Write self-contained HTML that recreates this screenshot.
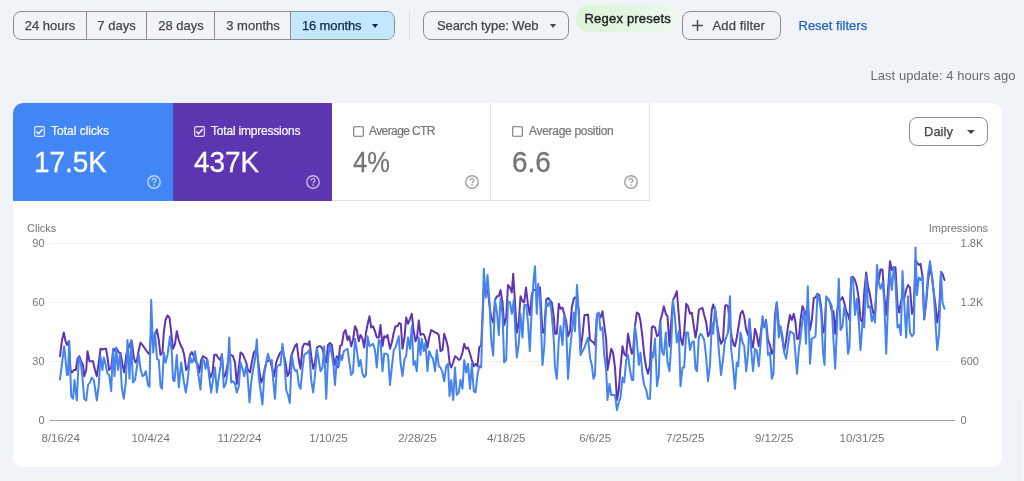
<!DOCTYPE html>
<html lang="en">
<head>
<meta charset="utf-8">
<title>Performance</title>
<style>
*{box-sizing:border-box;margin:0;padding:0}
html,body{width:1024px;height:481px;overflow:hidden;background:#f0f4f9;font-family:"Liberation Sans",Arial,sans-serif;color:#444746}
.abs{position:absolute}
#seg{left:13px;top:11px;width:382px;height:29px;border:1px solid #8a8d8c;border-radius:8px;display:flex;overflow:hidden;font-size:13px}
#seg div{flex:none;-webkit-text-stroke:.25px currentColor;height:100%;display:flex;align-items:center;justify-content:center;border-right:1px solid #8a8d8c;white-space:nowrap}
#seg div:last-child{border-right:0;background:#c2e7ff;color:#0b2a45}
.btn{-webkit-text-stroke:.25px currentColor;height:29px;top:11px;border:1px solid #8a8d8c;border-radius:8px;font-size:13px;display:flex;align-items:center;white-space:nowrap}
.caret{display:inline-block;width:0;height:0;border-left:4px solid transparent;border-right:4px solid transparent;border-top:4px solid #444746}
#card{left:13px;top:103px;width:989px;height:364px;background:#fff;border-radius:10px;overflow:hidden}
.tile{top:0;height:98px;position:absolute}
.tile .lbl{-webkit-text-stroke:.2px currentColor;position:absolute;left:38px;top:21px;font-size:12px;white-space:nowrap}
.tile .val{-webkit-text-stroke:.3px currentColor;position:absolute;left:21px;top:42px;font-size:30px;white-space:nowrap;transform:scaleX(.93);transform-origin:0 0}
.cb{position:absolute;left:21px;top:23px;width:11px;height:11px}
.help{position:absolute;left:132px;top:71px;width:16px;height:16px}
</style>
</head>
<body>
<div id="seg" class="abs">
  <div style="width:73px">24 hours</div>
  <div style="width:60px">7 days</div>
  <div style="width:68px;padding-left:1px">28 days</div>
  <div style="width:76px;padding-left:1px">3 months</div>
  <div style="width:103px;justify-content:flex-start;padding-left:11px;letter-spacing:-.15px">16 months<span class="caret" style="border-width:4px 3.8px 0;border-top-color:#0b2a45;margin-left:11px;margin-top:1px"></span></div>
</div>
<div class="abs" style="left:409px;top:11px;width:1px;height:29px;background:#dadee4"></div>
<div class="abs btn" style="left:423px;width:146px;padding-left:13px;letter-spacing:-.1px">Search type: Web<span class="caret" style="border-width:4px 3.8px 0;margin-left:11.5px;margin-top:1px"></span></div>
<div class="abs" style="left:576px;top:4.5px;width:102px;height:27.5px;border-radius:14px;background:linear-gradient(90deg,#dbf3d7,#ecf8ec);box-shadow:0 0 2px 0 #e4f5e2"></div>
<div class="abs" style="left:584.5px;top:11px;color:#1f1f1f;font-size:13px;letter-spacing:.2px;-webkit-text-stroke:.4px #1f1f1f;white-space:nowrap">Regex presets</div>
<div class="abs btn" style="left:682px;width:99px;padding-left:9.3px;letter-spacing:.1px"><svg width="11" height="11" viewBox="0 0 11 11" style="margin-right:9.3px"><path d="M5.5 0V11M0 5.5H11" stroke="#444746" stroke-width="1.4" fill="none"/></svg>Add filter</div>
<div class="abs" style="left:798.5px;top:18px;font-size:13px;color:#1f62c0;-webkit-text-stroke:.25px #1f62c0;white-space:nowrap">Reset filters</div>
<div class="abs" style="right:8.5px;top:68px;font-size:13px;letter-spacing:.05px;color:#696c71;white-space:nowrap">Last update: 4 hours ago</div>

<div class="abs" style="left:1022.5px;top:400px;width:1.5px;height:81px;background:#f6f8fc"></div>
<div id="card" class="abs">
  <div class="tile" style="left:0;width:160px;background:#4285f4;color:#fff">
    <svg class="cb" viewBox="0 0 12 12"><rect x=".75" y=".75" width="10.5" height="10.5" rx="1.5" fill="none" stroke="#fff" stroke-opacity=".85" stroke-width="1.3"/><path d="M2.7 6.1L5 8.4L9.4 3.6" fill="none" stroke="#fff" stroke-width="1.6"/></svg><div class="lbl">Total clicks</div><div class="val">17.5K</div><svg class="help" style="left:133px" viewBox="0 0 16 16" opacity=".68"><circle cx="8" cy="8" r="6.2" fill="none" stroke="#fff" stroke-width="1.4"/><path d="M6.1 6.6C6.1 5.4 6.9 4.7 8 4.7C9.1 4.7 9.9 5.4 9.9 6.4C9.9 7.6 8 7.8 8 9.3" fill="none" stroke="#fff" stroke-width="1.3"/><circle cx="8" cy="11.1" r=".85" fill="#fff"/></svg>
  </div>
  <div class="tile" style="left:160px;width:159px;background:#5e35b1;color:#fff">
    <svg class="cb" viewBox="0 0 12 12"><rect x=".75" y=".75" width="10.5" height="10.5" rx="1.5" fill="none" stroke="#fff" stroke-opacity=".85" stroke-width="1.3"/><path d="M2.7 6.1L5 8.4L9.4 3.6" fill="none" stroke="#fff" stroke-width="1.6"/></svg><div class="lbl" style="letter-spacing:-.2px">Total impressions</div><div class="val">437K</div><svg class="help" viewBox="0 0 16 16" opacity=".68"><circle cx="8" cy="8" r="6.2" fill="none" stroke="#fff" stroke-width="1.4"/><path d="M6.1 6.6C6.1 5.4 6.9 4.7 8 4.7C9.1 4.7 9.9 5.4 9.9 6.4C9.9 7.6 8 7.8 8 9.3" fill="none" stroke="#fff" stroke-width="1.3"/><circle cx="8" cy="11.1" r=".85" fill="#fff"/></svg>
  </div>
  <div class="tile" style="left:319px;width:159px;border-right:1px solid #e0e0e0;border-bottom:1px solid #e0e0e0;color:#757575">
    <svg class="cb" viewBox="0 0 12 12"><rect x=".75" y=".75" width="10.5" height="10.5" rx="1" fill="none" stroke="#757575" stroke-width="1.2"/></svg><div class="lbl" style="letter-spacing:-.6px;margin-left:-1px">Average CTR</div><div class="val" style="transform:scaleX(.85)">4%</div><svg class="help" viewBox="0 0 16 16" opacity="1"><circle cx="8" cy="8" r="6.2" fill="none" stroke="#9e9e9e" stroke-width="1.4"/><path d="M6.1 6.6C6.1 5.4 6.9 4.7 8 4.7C9.1 4.7 9.9 5.4 9.9 6.4C9.9 7.6 8 7.8 8 9.3" fill="none" stroke="#9e9e9e" stroke-width="1.3"/><circle cx="8" cy="11.1" r=".85" fill="#9e9e9e"/></svg>
  </div>
  <div class="tile" style="left:478px;width:159px;border-right:1px solid #e0e0e0;border-bottom:1px solid #e0e0e0;color:#757575">
    <svg class="cb" viewBox="0 0 12 12"><rect x=".75" y=".75" width="10.5" height="10.5" rx="1" fill="none" stroke="#757575" stroke-width="1.2"/></svg><div class="lbl" style="letter-spacing:-.3px">Average position</div><div class="val">6.6</div><svg class="help" viewBox="0 0 16 16" opacity="1"><circle cx="8" cy="8" r="6.2" fill="none" stroke="#9e9e9e" stroke-width="1.4"/><path d="M6.1 6.6C6.1 5.4 6.9 4.7 8 4.7C9.1 4.7 9.9 5.4 9.9 6.4C9.9 7.6 8 7.8 8 9.3" fill="none" stroke="#9e9e9e" stroke-width="1.3"/><circle cx="8" cy="11.1" r=".85" fill="#9e9e9e"/></svg>
  </div>
  <div class="abs btn" style="left:896px;top:14px;width:79px;height:29px;padding-left:14px;color:#444746">Daily<span class="caret" style="margin-left:14px;margin-top:1px"></span></div>
</div>
<svg class="abs" style="left:0;top:0" width="1024" height="481" viewBox="0 0 1024 481">
<style>.pl{fill:none;stroke-width:2;stroke-linejoin:round;stroke-linecap:round}.ax{font-family:"Liberation Sans",Arial,sans-serif;font-size:11px;fill:#757575}.xl{font-family:"Liberation Sans",Arial,sans-serif;font-size:11.5px;fill:#757575;text-anchor:middle}</style>
<g stroke="#f2f2f2" stroke-width="1"><path d="M50 243.5H953.5M50 302.5H953.5M50 361.5H953.5"/></g>
<path d="M50 420.5H955" stroke="#9e9e9e" stroke-width="1"/>
<text class="ax" x="27" y="232">Clicks</text>
<text class="ax" x="44.6" y="247" text-anchor="end">90</text>
<text class="ax" x="44.6" y="306" text-anchor="end">60</text>
<text class="ax" x="44.6" y="365" text-anchor="end">30</text>
<text class="ax" x="44.6" y="424" text-anchor="end">0</text>
<text class="ax" x="988" y="232" text-anchor="end">Impressions</text>
<text class="ax" x="960.6" y="247">1.8K</text>
<text class="ax" x="960.6" y="306">1.2K</text>
<text class="ax" x="960.6" y="365">600</text>
<text class="ax" x="960.6" y="424">0</text>
<text class="xl" x="60.7" y="442">8/16/24</text>
<text class="xl" x="150.6" y="442">10/4/24</text>
<text class="xl" x="239.5" y="442">11/22/24</text>
<text class="xl" x="328.5" y="442">1/10/25</text>
<text class="xl" x="417.4" y="442">2/28/25</text>
<text class="xl" x="506.3" y="442">4/18/25</text>
<text class="xl" x="595.2" y="442">6/6/25</text>
<text class="xl" x="685.2" y="442">7/25/25</text>
<text class="xl" x="774.1" y="442">9/12/25</text>
<text class="xl" x="862.0" y="442">10/31/25</text>
<!--LINES-->
<polyline class="pl" stroke="#5e35b1" points="60.0,356.2 62.0,340.0 63.8,332.5 65.5,341.2 67.0,345.0 68.8,341.2 70.5,370.0 72.0,372.5 73.8,370.0 75.8,370.0 77.5,358.8 79.2,356.2 81.2,361.2 83.0,365.0 84.2,376.2 86.2,370.0 87.5,351.2 89.5,361.2 91.2,361.2 93.0,361.2 95.0,370.0 96.8,376.2 98.8,362.5 100.5,348.8 102.5,349.5 104.2,348.8 106.0,348.8 107.5,357.5 109.2,370.0 111.2,367.5 113.0,352.5 115.0,348.8 116.8,348.8 118.8,352.5 120.5,353.0 122.5,365.0 124.2,372.5 126.2,355.0 128.0,348.8 130.0,343.8 131.8,341.2 133.8,357.5 135.5,362.5 137.0,360.0 138.8,350.0 140.5,342.5 142.5,345.0 144.2,347.5 146.2,350.5 148.0,353.0 149.5,354.5 151.2,332.5 153.0,337.5 155.0,335.0 156.8,329.5 158.8,340.0 160.5,355.0 162.5,352.5 163.8,332.5 165.5,320.0 167.5,315.5 169.5,317.5 171.2,332.5 173.0,348.8 175.0,343.8 176.8,331.2 178.8,340.0 180.5,345.0 182.5,348.8 184.2,355.0 186.2,370.0 188.0,367.5 190.0,355.0 191.8,352.0 193.8,356.2 195.5,361.2 197.5,363.8 199.2,372.5 201.2,360.0 203.0,356.2 205.0,357.5 206.8,358.8 208.8,370.0 210.5,377.5 212.5,372.5 214.2,355.0 216.2,354.5 218.0,357.5 220.0,360.0 221.8,355.0 223.8,377.5 225.5,375.0 227.5,365.0 229.2,355.0 231.2,355.0 233.0,356.2 235.0,362.5 236.8,383.8 238.8,367.5 240.5,352.5 242.5,353.8 244.2,357.5 246.2,362.5 248.0,370.0 250.0,372.5 251.8,362.5 253.8,352.5 255.5,350.5 257.5,355.0 259.2,370.0 261.2,382.5 263.0,377.5 265.0,367.5 266.8,361.2 268.8,360.5 270.5,361.2 272.5,370.0 274.2,376.2 276.2,362.5 278.0,357.5 280.0,353.0 281.8,351.2 283.8,355.0 285.5,362.5 287.5,376.2 289.2,372.5 291.2,356.2 293.0,351.2 295.0,346.2 296.8,343.8 298.8,360.0 300.5,368.8 302.5,347.5 304.2,343.8 306.2,343.8 308.0,345.0 309.5,341.2 311.2,356.2 313.2,368.8 315.0,362.5 317.0,347.5 318.8,346.2 320.5,346.2 322.5,348.8 324.2,356.2 326.2,362.5 328.0,345.0 330.0,343.0 331.8,345.0 333.5,357.5 335.0,365.0 336.8,356.2 338.0,367.5 340.0,346.2 341.8,345.0 343.8,332.5 345.5,330.0 347.5,340.0 349.2,336.2 351.2,346.2 353.0,340.0 355.0,326.2 356.8,330.0 358.8,341.2 360.5,335.0 362.5,338.8 364.2,347.5 366.0,332.5 368.0,322.5 369.5,316.2 371.2,327.5 373.0,326.2 375.0,331.2 376.8,337.5 378.8,337.5 380.5,325.0 382.5,346.2 384.2,336.2 386.2,337.5 387.5,335.0 390.0,348.8 391.8,342.5 393.8,332.5 395.5,326.2 397.5,326.2 399.2,323.0 400.8,323.8 402.5,348.8 404.5,337.5 406.2,317.5 408.0,323.8 410.0,318.8 411.8,313.8 413.5,330.0 415.5,341.2 417.0,337.5 418.8,320.5 420.5,335.0 422.5,333.8 424.2,335.0 426.2,341.2 427.5,347.5 429.2,337.5 431.2,330.0 433.0,331.2 435.0,332.5 436.8,333.0 438.8,335.0 440.5,351.2 442.5,350.0 444.2,333.8 446.2,340.0 448.0,347.5 449.5,362.5 451.2,367.5 453.2,362.5 455.0,356.2 456.8,357.5 458.8,360.0 460.5,358.8 462.5,352.5 464.2,343.8 466.2,348.8 468.0,347.5 470.0,353.8 471.8,360.0 473.8,366.2 475.5,363.8 477.5,366.2 479.2,347.5 481.2,345.0 483.8,290.0 485.8,290.0 487.5,287.5 489.5,305.0 491.2,317.5 493.2,322.5 495.0,300.0 497.0,296.2 498.8,296.2 500.5,290.0 502.5,302.5 504.2,325.0 506.2,317.5 508.0,285.0 510.0,287.5 511.8,292.5 513.2,273.8 515.0,302.5 516.8,332.5 518.8,322.5 520.5,296.2 522.5,301.2 524.2,302.5 526.0,287.5 528.0,305.0 529.8,315.0 531.8,295.0 533.2,290.0 535.0,290.0 536.8,290.0 538.2,290.0 540.0,287.5 542.5,332.5 544.2,332.5 546.2,300.0 548.0,298.0 550.0,300.0 551.8,302.5 553.8,317.5 555.0,333.8 556.8,333.8 558.8,303.8 560.5,308.8 562.5,307.5 564.2,313.8 566.2,321.2 568.0,336.2 570.0,331.2 571.8,307.5 573.8,298.8 575.0,297.5 577.0,297.5 578.8,311.2 580.5,350.0 582.5,335.0 584.5,315.0 586.2,315.0 588.0,314.5 590.0,340.0 591.8,341.2 593.5,342.5 595.0,345.0 597.0,315.0 598.8,313.8 600.5,317.5 602.5,311.2 604.2,325.0 606.2,340.0 607.5,370.0 609.5,358.8 611.2,348.8 613.0,352.5 615.0,367.5 617.0,400.0 618.8,390.0 620.5,367.5 622.5,346.2 624.2,353.8 626.2,356.2 628.0,333.8 630.0,345.0 631.8,353.8 633.2,350.0 635.0,326.2 636.8,312.5 638.8,313.8 640.5,321.2 642.5,337.5 644.2,355.0 646.2,367.5 648.0,373.8 650.0,365.0 651.8,327.5 653.0,326.2 655.0,327.5 657.0,336.2 658.8,335.0 660.5,320.0 662.0,315.0 663.8,306.2 665.8,313.8 667.5,316.2 669.5,346.2 671.2,322.5 673.0,300.0 675.0,296.2 676.8,291.2 678.8,315.0 680.5,337.5 682.5,345.0 684.2,332.5 686.2,303.8 688.0,306.2 690.0,313.8 691.8,312.5 693.8,326.2 695.5,337.5 697.0,328.8 698.8,310.0 700.5,308.8 702.5,308.0 704.2,315.0 706.2,322.5 708.0,336.2 710.0,332.5 711.8,310.0 713.2,304.5 715.0,310.0 716.8,322.5 718.8,335.0 721.0,343.8 723.0,340.0 725.0,306.2 726.2,305.0 728.0,306.2 730.0,325.0 731.8,337.5 733.8,345.0 735.0,346.2 736.8,337.5 738.8,325.0 740.5,313.8 742.5,310.8 744.2,316.2 746.2,330.0 748.0,335.0 749.5,320.0 751.2,340.0 753.0,347.5 755.0,328.8 756.8,335.0 758.8,346.2 760.5,335.0 762.5,320.0 764.2,326.2 766.0,320.0 768.0,340.0 770.0,345.0 771.8,353.8 773.5,350.0 775.0,315.0 776.8,302.5 778.8,326.2 780.5,327.5 782.5,340.0 784.2,351.2 786.2,340.0 788.0,326.2 790.0,315.0 791.8,320.0 793.8,313.8 795.5,322.5 797.0,338.8 798.8,338.8 800.5,320.0 802.5,306.2 804.2,310.0 806.0,315.0 807.8,305.0 810.0,330.0 811.8,320.0 813.8,298.0 815.5,297.5 817.5,293.8 819.2,295.0 821.2,307.5 823.0,332.5 824.5,330.0 826.2,297.5 828.0,298.8 830.0,302.5 831.8,311.2 833.5,311.2 835.2,333.8 837.0,312.5 838.8,300.0 840.5,300.0 842.5,297.0 844.2,302.5 846.2,311.2 848.0,315.0 849.5,320.0 851.2,277.5 853.0,277.0 855.0,280.0 856.8,286.2 858.8,298.8 860.5,320.0 862.5,322.5 864.2,292.5 866.2,272.5 868.0,286.2 870.0,295.0 871.8,306.2 873.5,313.8 875.0,315.0 877.0,281.2 878.8,280.0 880.5,269.5 882.5,269.5 884.2,295.0 886.2,315.0 888.0,290.0 890.0,261.2 891.8,270.0 893.8,267.0 895.5,267.5 897.5,305.0 899.2,312.5 900.8,302.5 902.5,296.2 904.2,298.8 906.2,290.0 908.0,285.0 910.0,287.5 912.0,313.8 913.8,307.5 915.5,260.0 917.0,262.5 918.8,265.0 920.5,263.8 922.5,276.2 924.2,319.5 926.2,302.5 928.0,281.2 930.0,267.5 931.8,275.0 933.8,292.5 935.5,305.0 937.2,322.5 939.2,310.0 941.0,272.0 942.5,273.8 944.5,280.0"/>
<polyline class="pl" stroke="#4584ef" points="60.0,379.5 64.2,346.2 67.0,375.0 68.0,375.0 69.2,341.2 71.2,396.2 73.0,398.8 74.5,380.0 76.8,400.5 78.8,357.5 80.5,361.2 82.5,377.5 84.2,398.8 86.2,400.5 88.0,385.0 90.0,382.5 91.8,377.5 93.8,380.0 96.8,400.5 98.8,385.0 100.5,356.2 102.5,370.0 103.8,357.5 105.5,363.8 107.5,373.8 109.2,375.0 111.2,391.2 113.0,348.8 114.5,376.2 116.2,347.5 118.0,370.0 120.0,353.8 121.8,387.5 123.8,398.8 125.8,382.5 127.5,340.0 129.5,378.8 131.2,340.0 133.0,382.5 135.0,380.0 136.8,367.5 138.8,355.0 140.5,368.8 142.5,376.2 144.2,375.0 145.8,371.2 148.0,385.0 149.5,387.0 151.2,300.0 153.2,352.5 155.0,332.5 157.0,358.8 158.8,360.0 160.5,386.2 162.0,388.8 163.8,352.5 165.5,362.5 167.5,355.0 170.0,336.2 171.8,352.5 173.0,380.0 174.5,381.2 176.8,355.0 178.8,387.5 181.2,362.5 183.8,381.2 185.8,392.5 188.0,377.5 190.0,356.2 191.8,362.5 193.0,361.2 195.0,351.2 196.8,363.8 198.8,377.5 200.5,389.5 202.5,358.8 204.2,361.2 205.5,368.8 207.5,360.0 209.2,377.5 211.2,392.5 213.0,380.0 215.0,367.5 216.8,392.5 218.8,377.5 220.5,366.2 222.0,353.8 223.8,387.5 225.8,383.8 227.5,372.5 229.2,337.5 231.2,382.5 233.0,381.2 235.0,383.8 236.8,392.5 238.8,386.2 240.5,362.5 242.5,368.8 244.2,376.2 246.2,366.2 247.5,375.0 249.5,402.5 251.2,382.5 253.0,370.0 255.0,360.0 256.8,339.5 258.8,377.5 260.5,390.0 262.5,404.5 264.2,375.0 266.2,362.5 268.0,353.8 270.0,361.2 271.8,360.0 273.2,380.0 275.0,398.8 276.8,367.5 278.8,365.0 280.5,365.0 282.5,343.8 284.2,357.5 286.2,390.0 288.0,395.0 289.8,403.0 291.8,355.0 293.8,367.5 295.5,371.2 297.0,370.0 298.8,385.0 300.5,388.8 302.5,368.8 304.2,355.0 305.5,353.8 307.5,352.5 309.2,350.0 311.2,380.0 313.2,392.5 315.0,375.0 317.0,348.8 318.8,360.0 320.5,371.2 322.5,367.5 324.2,346.2 326.2,398.8 328.0,358.8 330.0,345.0 331.8,353.8 333.5,366.2 335.0,385.0 336.8,358.8 338.8,366.2 340.5,355.0 342.0,360.0 343.8,351.2 345.5,350.0 347.5,348.8 349.2,361.2 351.2,375.0 353.0,372.5 355.0,338.8 356.8,350.0 358.8,366.2 360.5,360.0 362.5,373.8 364.2,377.0 366.0,375.0 367.5,336.2 369.5,346.2 371.2,345.0 373.0,343.8 375.0,350.0 376.8,367.5 378.8,340.0 380.5,341.2 382.5,371.2 384.2,353.8 386.2,353.8 388.0,355.0 390.0,385.0 391.8,367.5 393.8,350.0 395.5,347.5 398.8,336.2 400.5,362.5 402.5,376.2 404.5,358.8 406.2,356.2 408.0,337.5 410.0,348.8 411.8,326.2 413.5,365.0 415.0,361.2 416.8,371.2 418.8,337.5 420.5,355.0 421.8,338.8 423.8,351.2 425.5,342.5 427.5,371.2 429.2,351.2 431.2,356.2 433.0,358.8 435.0,371.2 436.8,350.0 438.8,366.2 440.5,367.5 442.5,372.5 444.2,381.2 446.2,366.2 448.0,363.8 449.5,396.2 451.2,380.0 453.2,400.0 455.0,367.5 456.8,395.0 458.8,392.5 460.5,380.0 462.5,388.8 464.2,360.0 466.2,372.5 468.0,363.8 470.0,388.8 471.8,363.8 473.8,391.2 475.5,392.5 477.5,375.0 479.2,366.2 481.2,367.5 483.8,268.8 485.8,297.5 487.5,275.0 489.5,302.5 491.2,340.0 493.2,355.5 495.0,300.0 497.0,312.5 498.8,335.0 500.5,298.8 502.5,315.0 504.2,362.5 506.2,360.0 508.0,301.2 510.0,302.5 511.8,313.8 513.8,300.0 515.5,335.0 516.8,357.5 518.8,343.8 520.5,313.8 522.5,337.5 524.2,305.0 526.2,305.0 528.0,322.5 529.8,351.2 531.8,307.5 533.2,285.0 535.0,266.2 536.8,313.8 538.2,283.8 540.0,298.8 542.5,365.0 544.2,347.5 546.2,302.5 548.0,306.2 550.0,300.0 551.8,315.0 553.8,340.0 555.0,367.5 556.8,378.8 558.8,340.0 560.5,326.2 562.5,345.0 564.2,315.0 566.2,327.5 568.0,378.8 570.0,350.0 571.8,332.5 573.8,312.5 575.0,331.2 577.0,285.0 578.8,315.0 580.5,355.0 582.5,351.2 584.5,347.5 586.2,342.5 588.0,337.5 590.0,357.5 591.8,365.0 593.5,378.8 595.0,375.0 597.0,313.8 598.8,312.5 600.5,330.0 602.5,327.5 604.2,355.0 606.2,370.0 607.5,400.0 609.5,383.8 611.2,395.0 613.0,395.0 615.0,395.0 617.0,410.0 618.8,402.5 620.5,397.5 622.5,377.5 624.2,382.5 626.2,360.0 628.0,355.0 630.0,370.0 631.8,380.0 633.2,380.0 635.0,326.2 636.8,340.0 638.8,365.0 640.5,352.5 642.5,375.0 644.2,385.0 646.2,390.0 648.0,398.8 650.0,398.8 651.8,352.5 653.0,357.5 655.0,338.8 657.0,386.2 658.8,375.0 660.5,322.5 662.0,351.2 663.8,355.0 665.8,332.5 667.5,362.5 669.5,371.2 671.2,345.0 673.0,300.0 675.0,317.5 676.8,342.5 678.8,331.2 680.5,386.2 682.5,367.5 684.2,367.5 686.2,332.5 688.0,332.5 690.0,350.0 691.8,342.5 693.8,341.2 695.5,368.8 697.0,371.2 698.8,337.5 700.5,333.8 702.5,336.2 704.2,340.0 706.2,357.5 708.0,381.2 710.0,365.0 711.8,322.5 713.2,333.8 715.0,307.5 716.8,322.5 718.8,350.0 721.0,375.0 723.0,360.0 725.0,340.0 726.2,337.5 728.0,332.5 730.0,296.2 731.2,350.0 733.0,365.0 735.0,388.8 736.8,362.5 738.2,366.2 740.5,332.5 742.5,342.5 744.2,346.2 746.2,371.2 748.0,353.8 749.5,318.8 751.2,350.0 753.0,371.2 755.0,348.8 756.8,351.2 758.8,366.2 760.5,345.0 762.5,316.2 764.2,327.5 766.0,321.2 768.0,355.0 770.0,352.5 771.8,378.8 773.5,373.8 775.0,325.0 776.8,302.5 778.8,337.5 780.5,326.2 782.5,336.2 784.2,352.5 786.2,358.8 788.0,345.0 790.0,331.2 791.8,332.5 793.8,333.8 795.5,355.0 797.0,373.8 798.8,350.0 800.5,337.5 802.5,320.0 804.2,310.0 806.0,343.8 807.8,286.2 810.0,363.8 811.8,338.8 813.8,337.5 815.5,336.2 817.5,293.8 819.2,298.8 821.2,312.5 823.0,352.5 824.5,365.0 826.2,296.2 828.0,298.8 830.0,302.5 831.8,306.2 833.5,340.0 835.2,368.8 837.0,327.5 838.8,278.8 840.5,330.0 842.5,326.2 844.2,307.5 846.2,317.5 848.0,353.8 849.5,347.5 851.2,277.5 853.0,278.8 855.0,315.0 856.8,298.8 858.8,322.5 860.5,350.0 862.5,322.5 864.2,327.5 866.2,276.2 868.0,307.5 870.0,306.2 871.8,321.2 873.5,315.0 875.0,322.5 877.0,265.0 878.8,282.5 880.5,288.8 882.5,282.5 884.2,300.0 886.2,353.8 888.0,305.0 890.0,271.2 891.8,290.0 893.8,267.5 895.5,282.5 897.5,327.5 899.2,325.0 900.8,335.0 902.5,271.2 904.2,302.5 906.2,337.5 908.0,296.2 910.0,332.5 912.0,336.2 913.8,333.8 915.5,247.5 917.0,295.0 918.8,277.5 920.5,280.0 922.5,276.2 924.2,318.8 926.2,300.0 928.0,275.0 930.0,261.2 931.8,275.0 933.8,293.8 935.5,322.5 937.2,350.0 939.2,332.5 941.0,272.5 942.5,302.5 944.5,308.8"/>
<!--/LINES-->
</svg>
</body>
</html>
